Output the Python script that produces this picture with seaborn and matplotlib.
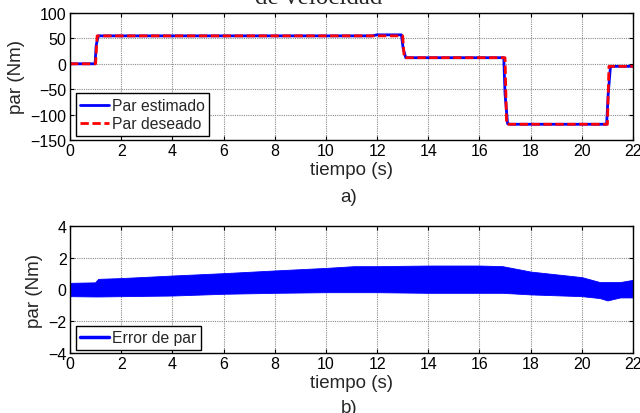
import numpy as np
import pandas as pd
import matplotlib
matplotlib.use("Agg")
import matplotlib.pyplot as plt
from matplotlib.lines import Line2D
import seaborn as sns

# ---- data ----
t_desired = [0, 1.0, 1.06, 13.0, 13.06, 17.0, 17.06, 21.0, 21.06, 22]
par_desired = [0, 0, 55, 55, 12, 12, -119, -119, -5, -5]

t_est = [0, 0.98, 1.02, 1.1, 11.8, 12.0, 12.95, 13.02, 13.12, 16.95, 17.0,
         17.1, 17.2, 20.97, 21.03, 21.12, 22]
par_est = [0, 0, 35, 55, 55, 57, 57, 30, 12, 12, -60, -118, -119, -119,
           -60, -5, -5]

t_err = [0, 0.98, 1.1, 2, 4, 6, 8, 10, 11.1, 12, 14, 16, 16.9, 18, 20, 20.7,
         21.0, 21.5, 22]
err_upper = [0.42, 0.45, 0.67, 0.72, 0.88, 1.03, 1.2, 1.36, 1.47, 1.47, 1.51,
             1.51, 1.47, 1.13, 0.78, 0.47, 0.47, 0.47, 0.61]
err_lower = [-0.42, -0.44, -0.44, -0.42, -0.38, -0.27, -0.21, -0.17, -0.17,
             -0.17, -0.21, -0.21, -0.21, -0.31, -0.42, -0.54, -0.69, -0.5,
             -0.5]

x_ticks = [0, 2, 4, 6, 8, 10, 12, 14, 16, 18, 20, 22]
y_ticks_a = [-150, -100, -50, 0, 50, 100]
y_ticks_b = [-4, -2, 0, 2, 4]

# ---- style ----
sns.set_style("ticks")
plt.rcParams['font.family'] = ['Liberation Sans', 'DejaVu Sans']

fig = plt.figure(figsize=(6.4, 4.14), dpi=100)
W, H = 640, 414
ax_left, ax_w = 70 / W, 563 / W
ax_h = 127 / H
ax1 = fig.add_axes([ax_left, 1 - 141 / H, ax_w, ax_h])
ax2 = fig.add_axes([ax_left, 1 - 354 / H, ax_w, ax_h])

df_est = pd.DataFrame({"t": t_est, "par": par_est})
df_des = pd.DataFrame({"t": t_desired, "par": par_desired})

sns.lineplot(data=df_est, x="t", y="par", ax=ax1, color="#0000ff", lw=2.0,
             label="Par estimado", sort=False, estimator=None)
sns.lineplot(data=df_des, x="t", y="par", ax=ax1, color="#ff0000", lw=2.0,
             linestyle=(0, (3, 1.3)), label="Par deseado", sort=False,
             estimator=None)

ax2.fill_between(t_err, err_lower, err_upper, color="#0000ff", lw=0.6,
                 edgecolor="#0000ff")


def style(ax, yticks, ylim):
    ax.set_xlim(0, 22)
    ax.set_ylim(*ylim)
    ax.set_xticks(x_ticks)
    ax.set_yticks(yticks)
    ax.grid(True, color="#8a8a8a", linestyle=(0, (1, 1)), lw=0.8)
    ax.set_axisbelow(True)
    for s in ax.spines.values():
        s.set_visible(True)
        s.set_color("black")
        s.set_linewidth(1.0)
    ax.tick_params(direction="in", top=True, right=True, length=3,
                   width=0.8, labelsize=11.5, pad=2.5, colors="black")
    ax.set_xlabel("tiempo (s)", fontsize=13.5, labelpad=2)
    ax.set_ylabel("par (Nm)", fontsize=13.5, labelpad=4)


style(ax1, y_ticks_a, (-150, 100))
style(ax2, y_ticks_b, (-4, 4))

leg_kw = dict(loc="lower left", fontsize=11.3, frameon=True, fancybox=False,
              framealpha=1, edgecolor="black", borderaxespad=0,
              handlelength=1.8, handletextpad=0.2, labelspacing=0.2,
              borderpad=0.3)
leg1 = ax1.legend(bbox_to_anchor=(5.7 / 563, 4 / 127), **leg_kw)
leg1.get_frame().set_linewidth(1.0)

h2 = [Line2D([], [], color="#0000ff", lw=2.5)]
leg2 = ax2.legend(h2, ["Error de par"], bbox_to_anchor=(5.7 / 563, 3 / 127),
                  **leg_kw)
leg2.get_frame().set_linewidth(1.0)

fig.text(349 / W, 1 - 198 / H, "a)", ha="center", va="center", fontsize=13.5)
fig.text(349 / W, 1 - 409 / H, "b)", ha="center", va="center", fontsize=13.5)
fig.text(319 / W, 1 - 3.5 / H, "de velocidad", ha="center", va="baseline",
         fontsize=18, family=["Liberation Serif", "DejaVu Serif"])

fig.savefig("out.png", dpi=100)
